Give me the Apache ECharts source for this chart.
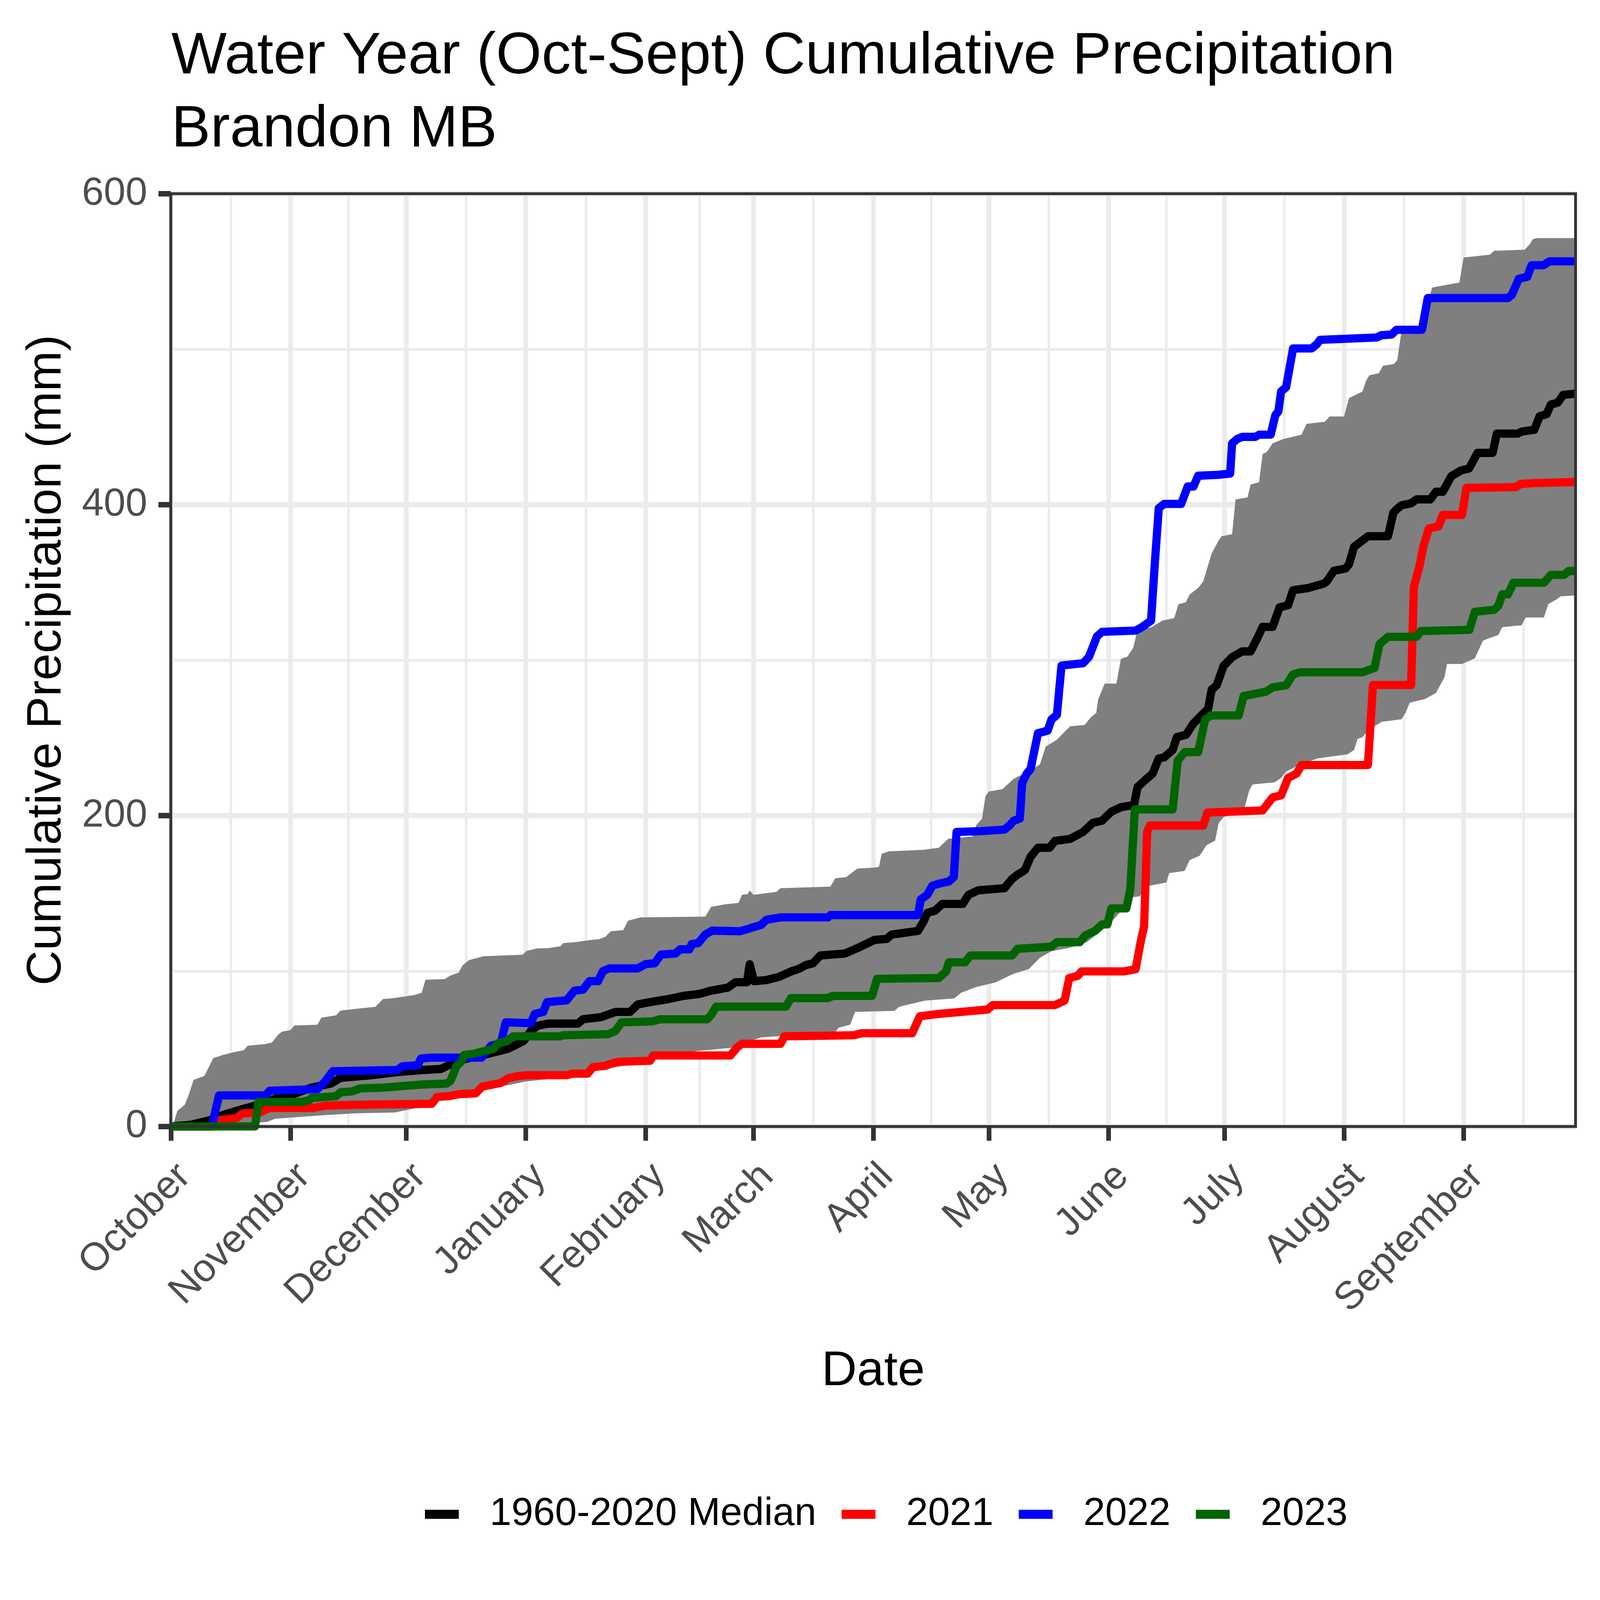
<!DOCTYPE html>
<html>
<head>
<meta charset="utf-8">
<script src="https://cdn.jsdelivr.net/npm/echarts@6/dist/echarts.min.js"></script>
<style>
  html, body { margin: 0; padding: 0; background: #fff; overflow: hidden; }
  #main { width: 100vw; height: 100vh; }
</style>
</head>
<body>
<div id="main"></div>
<script>
// day of water year (0 = Oct 1), cumulative mm
var monthNames = ['October', 'November', 'December', 'January', 'February', 'March',
                  'April', 'May', 'June', 'July', 'August', 'September'];
var monthStart = [0, 31, 61, 92, 123, 151, 182, 212, 243, 273, 304, 335];
var monthMid = [15.5, 46, 76.5, 107.5, 137, 166.5, 197, 227.5, 258, 288.5, 319.5, 350.5];

var bandUpper = [[0,0],[0.8,2.8],[1.7,10],[3.6,14],[4.6,20],[5.9,30],[8.7,32.5],[10,39],[11,44],[13.5,46],
  [16.7,48],[18.9,49],[19.9,52],[24.3,53],[26.2,54],[27.8,59],[28.8,61],[31,62],[32,65],[38,65.5],[39,70],
  [42.8,71.5],[44,74.6],[49,76],[53,77],[55,82],[57.5,82.5],[63,84.5],[65,86],[66,94.4],[71,94.8],[72.4,97],
  [74.6,99],[75.6,103.7],[77.2,107],[81,109.5],[91.2,110.5],[92.2,113],[95,114.6],[97.8,114.7],[101,116],
  [101.7,118],[105,118.6],[108.8,120],[111,120.5],[112.6,122],[114,125.6],[117.2,126.3],[118.5,132.4],
  [121.7,134.5],[138.5,135],[140,141.3],[143.8,143],[147.1,143.8],[148,149],[149.5,149.5],[150,151.8],
  [151,149],[156.9,150.9],[158,153.3],[170.9,154.3],[172.2,159.7],[175,160.4],[177.9,165.9],[182,166.5],
  [183.5,167],[184.2,175.4],[186,177],[195,178],[199,179.3],[201.4,185],[207.7,186.6],[208.7,193.8],
  [210.2,198],[211.1,212.6],[212,215.5],[215.5,217],[218.4,223.6],[223.3,230],[225.2,232.9],[226.7,244.4],
  [229.6,248.8],[233,257.4],[236.8,258.3],[238.4,263.2],[239.8,266],[240.3,274.8],[242,284.9],[245,284.9],
  [246.2,300.8],[247.9,302.3],[249.4,308],[250.5,319.6],[254,321],[257,325.5],[260,327],[261.1,336],
  [263,337.2],[264,342.2],[266.2,346.4],[267.5,350.5],[269.7,368.6],[271.5,376.9],[272.3,379.7],[275,381],
  [275.9,403.3],[279,404.7],[279.8,413],[282,414.4],[282.9,432.5],[284,433.9],[285.5,439.4],[288.2,442.2],
  [293,445],[294.3,452],[299,453.3],[300.3,456.7],[304,456.7],[305.3,468.6],[308.8,472.8],[309.7,479.7],
  [310.6,483.3],[313,484.5],[314.1,489.4],[317,490.5],[317.8,493],[318.9,511.7],[324.2,512.5],[326.8,539.6],
  [331,541.6],[333.9,542.8],[335,559],[341.8,560.8],[342.9,563.3],[350.8,564],[352.2,567.7],[352.9,570.7],
  [354,571.5],[364,571.5]];

var bandLower = [[0,0],[10,1],[20,2],[25,3],[27,5],[38,7],[48,8.5],[58,9],[64,12],[66,16.5],[69,18],[75,20],
  [80,24],[87,26.4],[92,29],[98,30.5],[105,33],[112,37],[120,40],[125,43],[133,46],[136,48.5],[145,50.5],
  [150,55],[153,57.3],[160,58.5],[172,60],[173,63.5],[176,65.5],[177.3,73.7],[187.5,74.4],[188.7,77],
  [190.3,78],[195.5,81],[203,82.4],[204.8,86],[208.7,89.7],[213.6,92.6],[218.4,98.3],[222.3,101.2],
  [225.2,108.5],[228.2,112.8],[233,115],[237.4,118.6],[241.8,127.3],[245,135],[249,147.5],[251,148],
  [253.5,154.8],[256.3,156.2],[258,157],[258.7,163],[262.7,164.4],[264,171.4],[266.6,174.2],[268.4,181],
  [270.6,183.9],[271.5,195],[272.8,199],[278,203],[279.4,215.8],[280.3,220],[286,221.4],[287.7,224.2],
  [289,228.3],[291.7,231.7],[297,236.7],[304.9,239.4],[306.6,242.2],[307.5,249.2],[308.8,250.5],
  [310.2,254.7],[313.7,260.3],[318.9,262],[320,266.4],[321,272.6],[325,275],[327.8,278.8],[330,288.8],
  [330.7,297.5],[334.6,297.5],[335.7,298.8],[337.9,301.2],[340,312.5],[341.1,313.7],[344,316.2],
  [345,321.2],[350,322.4],[351.1,327.4],[355.8,327.4],[356.9,336],[359,339],[360.1,341],[364,341.6]];

var median = [[0,0],[5,1],[10,4],[14,7.8],[19,11.5],[23.7,14.6],[26.9,17.7],[31,20],[36.4,25],[41.5,27.6],
  [44,31.3],[52,33],[58.7,35],[65,36.3],[70,37],[74.6,42.5],[81,46],[87.4,50],[91.4,55],[93.3,61.4],
  [95,64.8],[97.8,66.2],[105.5,66.2],[106.8,69],[111.4,70.3],[113,71.7],[115.2,73.7],[119,73.7],[121,78.5],
  [124.2,80],[129,82],[132.8,84],[137,85.3],[140,87.4],[144.4,89.4],[146.3,92.8],[149.3,92.8],[150,104.4],
  [151.1,93.5],[154.3,94.2],[157.5,96.2],[160.7,99.7],[163,101.7],[164.5,103.8],[166.4,105],[168.3,110],
  [174.7,111.3],[178.5,115.4],[182.3,120],[185.5,120.7],[186.8,123.5],[189,124.2],[193.6,125.8],
  [195,131.6],[196,137.4],[198,138.8],[199.9,143.2],[205.2,143.2],[206.7,149],[209.2,151.9],[216,153.3],
  [217.9,159],[219.4,162],[221.3,164.9],[222.8,173.6],[224.7,179.3],[227.7,179.3],[229.1,183.7],[233,185],
  [236.4,189.5],[238.9,195.3],[241.3,196.7],[243.7,202.5],[246.2,205.4],[249.6,206.8],[250.5,218.4],
  [253,224],[254.4,227],[256,236.7],[257.4,237.5],[259.6,242.2],[260.7,250.5],[263.1,252],[264.9,259],
  [267,264.4],[268.8,268.6],[269.7,281],[271,283.8],[272.8,296.3],[275,301.9],[277.6,305.6],[279.8,305.6],
  [281.6,314.4],[282.9,321.4],[285.5,321.4],[287.3,333.9],[289.5,335.3],[290.8,345],[294.8,346.4],
  [298.7,349.2],[299.5,350.5],[301.4,357.5],[304.4,358.9],[305.3,361.7],[306.6,372.8],[308.8,377],
  [310.2,379.7],[315.4,379.7],[316.8,395],[318,397.8],[318.9,399.6],[321.4,400.9],[322.8,403.4],
  [326.4,403.4],[327.8,408.3],[329.6,408.3],[331.8,418.3],[334.3,422],[336.4,423.3],[338.6,433.3],
  [342.5,433.3],[343.6,445.7],[349,445.7],[350,447],[353.3,448.2],[354.7,456.9],[356.5,458.2],
  [357.6,464.4],[359.4,465.6],[360.8,470.6],[364,471.4]];

var wy2021 = [[0,0],[10,0],[12,4],[17,5.3],[18.6,8.4],[23,9],[25.6,12],[37,12],[40,13.4],[48.5,14],
  [67.6,14.6],[69,19],[72,19.5],[74.6,20.8],[79,21.3],[80.7,25.7],[85.5,28],[87.4,31],[90,32.5],[92.5,33],
  [102.6,33],[104,34],[108,34],[109.4,38.2],[112.6,39],[114,40.3],[115.9,41.6],[124.2,42.3],[125,45.7],
  [145,45.7],[146.8,51],[148,53.2],[158,53.2],[159,58],[177,58.7],[179,60],[192.1,60],[194.1,70.9],
  [198.5,72.3],[211.6,75.2],[213,78.1],[229.1,78.1],[231.6,81],[232.8,95.5],[235,96.9],[236,99.8],
  [247.1,99.8],[250,101.2],[251.3,118.6],[252.2,128.7],[253,189.5],[253.7,193.6],[267.5,193.6],
  [268.6,201.9],[282.9,203.3],[285.5,211.7],[287.7,213],[289.5,224.2],[291.7,227],[293,232.5],
  [310.2,232.5],[311.5,284],[321.4,284],[322.1,347.3],[323.5,359.8],[324.6,373.5],[326,384.7],
  [328.5,386],[329.6,393.4],[334.6,393.4],[335.7,410.8],[348.6,411.3],[349.7,413.3],[352.9,413.8],
  [364,414.6]];

var wy2022 = [[0,0],[10.6,0],[12.5,20],[24.6,20],[25.6,23],[38,24],[40,29],[42,35.6],[58.7,36.3],[60,38.7],
  [64,39.4],[64.8,43.7],[67.5,44.3],[80.5,44.3],[83,52],[85.5,53.6],[86.8,67],[93.3,66.5],[94.3,72.4],
  [96.5,73.7],[97.5,80],[102.6,81.2],[104.6,87.4],[106.8,88],[108.5,93.5],[110.7,93.5],[112,100],
  [113.6,101.7],[121,101.7],[123,104.4],[125.4,105],[127,110.6],[130.8,111.3],[132,114],[134.4,114],
  [135,117.4],[136.7,118],[138.5,123.5],[140.3,126],[147.5,125.6],[153,129.7],[154.3,133],[158,134.5],
  [170.3,134.5],[170.9,136],[193.6,136],[194.3,146],[196,149],[197.3,154.8],[199,156.2],[201.6,157.6],
  [202.9,160.5],[203.6,189.5],[210,190],[216,191],[217.4,193.8],[218.4,196.7],[220,198],[220.6,221],
  [221.8,227],[222.8,230],[223.5,238.6],[224.7,253],[227.2,254.6],[228.2,261.8],[229.6,264.7],
  [230.8,296.5],[236.4,298],[237.9,302],[240,315.3],[241.3,318.2],[250,319],[251.5,321],[254,325.4],
  [255,363],[256,397.7],[257.4,400.5],[261.8,400.5],[263.5,411.7],[265,411.7],[266.2,418.6],[271.5,419.2],
  [274.5,420],[275,439.4],[276.3,442.2],[277.6,443.6],[281,443.6],[282,445],[285,445],[286.2,457.5],
  [287,460],[287.7,472.8],[289,475.5],[290.8,500.5],[295.6,500.5],[297,503.3],[297.8,506],[312.4,507.5],
  [313.7,509],[316.3,509.4],[317.6,512.5],[324.2,512.5],[325.7,532.9],[346.5,532.9],[347.5,535],
  [349.3,545.3],[351.5,546.6],[352.6,554],[355.7,554],[357.2,556.5],[364,556.5]];

var wy2023 = [[0,0],[21.8,0],[22.7,15.8],[33.9,15.8],[36,17],[36.4,18.3],[42.8,19.5],[44,22],[47,22.6],
  [49,24.5],[55,25],[62,26.4],[65,27],[71.5,27.6],[72.5,29.5],[74,38.7],[75.3,41.8],[76,46],[78.5,46.8],
  [80.4,48],[83.6,49.9],[84.8,53.6],[87,54.8],[88.7,58],[101,58],[101.6,58.7],[113.3,59.4],[115.2,61.4],
  [116.8,67],[124.8,67.6],[126.7,69],[139,69],[140,71.7],[141.3,77.1],[159.4,77.1],[160.7,82.6],
  [170.3,82.6],[171.5,84],[181.7,84],[183,95],[199,95.5],[200.9,99.8],[201.6,105.6],[205.8,105.6],
  [207.2,110],[218,110],[219.4,114.3],[228.2,115.7],[229.6,118.6],[235.5,118.6],[237,123],[239.5,125.8],
  [241.3,130],[242.7,130],[243.7,140.3],[247.6,140.3],[248.6,151.9],[249.8,204],[259.6,204],[260.9,235.3],
  [262.7,240.8],[266.2,240.8],[268,261.7],[269.5,264.4],[276.7,264.4],[278,276.9],[283.8,279.7],
  [285.5,282.5],[289,283.8],[290.8,290.8],[292.6,292.2],[308.8,292.2],[311.9,295],[313.2,310.3],
  [315.4,315],[322.8,315],[323.9,318.7],[336.5,319.5],[337.9,331.1],[342.9,332.4],[344,334.9],[345,342.3],
  [346.5,342.3],[347.9,349.8],[355.8,349.8],[357.6,354.8],[361,354.8],[362.2,357.3],[364,357.3]];

var seriesNames = ['1960-2020 Median', '2021', '2022', '2023'];
var seriesColors = ['#000000', '#FF0000', '#0000FF', '#006400'];
var seriesData = [median, wy2021, wy2022, wy2023];

var dom = document.getElementById('main');
// layout measured on the 5433 x 4724 reference, mapped onto the real page size
var sx = dom.clientWidth / 5433;
var sy = dom.clientHeight / 4724;
var sf = Math.min(sx, sy);      // text
var sl = (sx + sy) / 2;         // strokes
function X(v) { return v * sx; }
function Y(v) { return v * sy; }
function F(v) { return v * sf; }

var chart = echarts.init(dom);
var FONT = '"Liberation Sans", Arial, Helvetica, sans-serif';

function bandPolygon(params, api) {
    var pts = [];
    for (var i = 0; i < bandUpper.length; i++) pts.push(api.coord(bandUpper[i]));
    for (var j = bandLower.length - 1; j >= 0; j--) pts.push(api.coord(bandLower[j]));
    return {
        type: 'polygon',
        shape: { points: pts },
        style: { fill: '#7F7F7F', stroke: null }
    };
}

var lineSeries = seriesNames.map(function (name, i) {
    return {
        name: name,
        type: 'line',
        data: seriesData[i],
        showSymbol: false,
        symbol: 'none',
        color: seriesColors[i],
        lineStyle: { color: seriesColors[i], width: 26 * sl, cap: 'butt', join: 'round' },
        emphasis: { disabled: true },
        z: 3 + i
    };
});

var option = {
    backgroundColor: '#ffffff',
    animation: false,
    textStyle: { fontFamily: FONT },
    title: {
        text: 'Water Year (Oct-Sept) Cumulative Precipitation\nBrandon MB',
        left: X(582),
        top: Y(120.6) - F(69),
        padding: 0,
        textStyle: { fontFamily: FONT, fontSize: F(199), fontWeight: 'normal', color: '#000', lineHeight: Y(216) }
    },
    legend: {
        data: seriesNames,
        left: X(1443),
        top: Y(4471) - F(80),
        padding: 0,
        icon: 'rect',
        itemWidth: X(115),
        itemHeight: Y(27),
        itemGap: X(86),
        textStyle: { fontFamily: FONT, fontSize: F(133), color: '#000', lineHeight: F(160),
                     padding: [0, 0, 0, X(98)] }
    },
    grid: {
        left: X(580), top: Y(572), right: X(83), bottom: Y(1398),
        show: true, z: 10,
        borderColor: '#333333', borderWidth: 9 * sl,
        backgroundColor: 'transparent',
        containLabel: false,
        outerBoundsMode: 'none'
    },
    xAxis: [{
        type: 'value', min: 0, max: 364,
        axisLine: { show: false },
        axisTick: { show: true, customValues: monthStart, length: Y(42),
                    lineStyle: { color: '#333333', width: X(16) } },
        axisLabel: {
            customValues: monthStart,
            formatter: function (v) { return monthNames[monthStart.indexOf(v)]; },
            rotate: 45, align: 'right', verticalAlign: 'top',
            fontFamily: FONT, fontSize: F(133), color: '#4D4D4D', margin: Y(89), hideOverlap: false
        },
        splitLine: { show: true, lineStyle: { color: '#EBEBEB', width: X(16) } },
        name: 'Date', nameLocation: 'middle', nameGap: Y(730) - F(90),
        nameTextStyle: { fontFamily: FONT, fontSize: F(166), color: '#000' }
    }, {
        type: 'value', min: 0, max: 364, position: 'bottom',
        axisLine: { show: false },
        axisTick: { show: false, customValues: monthMid },
        axisLabel: { show: false },
        splitLine: { show: true, lineStyle: { color: '#EBEBEB', width: X(8) } }
    }],
    yAxis: {
        type: 'value', min: 0, max: 600, interval: 200,
        axisLine: { show: false },
        axisTick: { show: true, length: X(42), lineStyle: { color: '#333333', width: Y(16) } },
        axisLabel: { fontFamily: FONT, fontSize: F(133), color: '#4D4D4D', margin: X(80) },
        splitLine: { show: true, lineStyle: { color: '#EBEBEB', width: Y(16) } },
        minorTick: { show: false, splitNumber: 2 },
        minorSplitLine: { show: true, lineStyle: { color: '#EBEBEB', width: Y(8) } },
        name: 'Cumulative Precipitation (mm)', nameLocation: 'middle', nameGap: X(428) - F(90), nameRotate: 90,
        nameTextStyle: { fontFamily: FONT, fontSize: F(165), color: '#000' }
    },
    series: [{
        name: 'band',
        type: 'custom',
        renderItem: bandPolygon,
        data: [[0, 0]],
        silent: true,
        z: 2
    }].concat(lineSeries)
};

chart.setOption(option);
</script>
</body>
</html>
